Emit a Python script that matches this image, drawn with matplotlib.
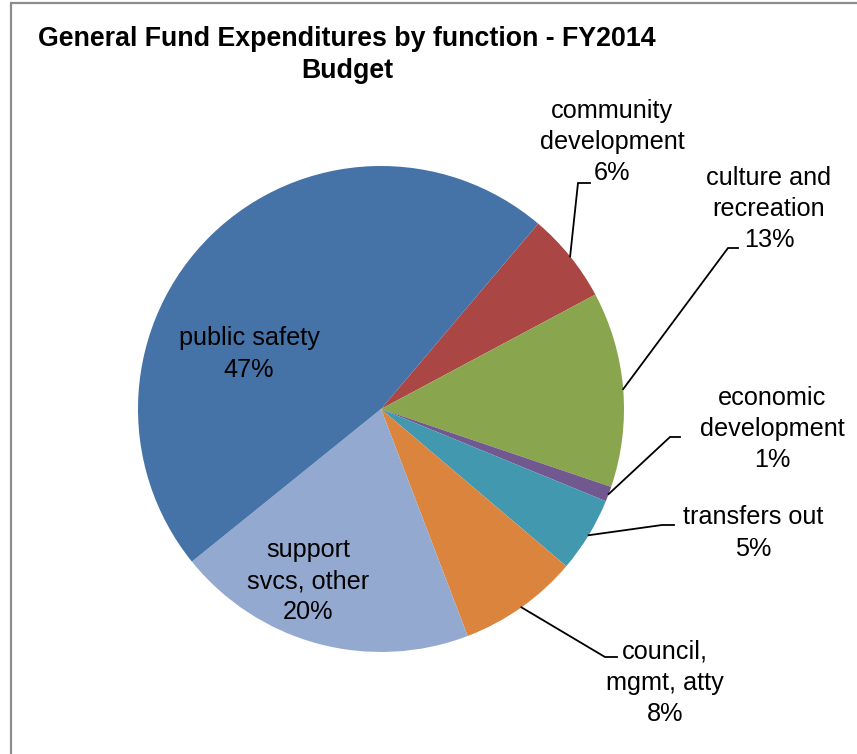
import matplotlib.pyplot as plt
from matplotlib.patches import Rectangle
import numpy as np

plt.rcParams['font.family'] = ['Liberation Sans', 'DejaVu Sans']

categories = ['community\ndevelopment', 'culture and\nrecreation', 'economic\ndevelopment',
              'transfers out', 'council,\nmgmt, atty', 'support\nsvcs, other', 'public safety']
shares = [6, 13, 1, 5, 8, 20, 47]
colors = ['#AA4643', '#89A54E', '#71588F', '#4198AF', '#DB843D', '#93A9CF', '#4572A7']

W, H = 857, 754
fig = plt.figure(figsize=(W / 100, H / 100), dpi=100)
ax = fig.add_axes([0, 0, 1, 1])

cx, cy, r = 381, H - 409, 243
wedges, _ = ax.pie(shares, colors=colors, startangle=49.7, counterclock=False,
                   center=(cx, cy), radius=r, frame=True)
ax.set_xlim(0, W)
ax.set_ylim(0, H)
ax.set_aspect('auto')
ax.axis('off')

# label block centres (x, y from top), and leader elbows for outside labels
label_pos = [(612, 142), (769, 209), (772, 429), (753, 533), (665, 683), (308, 581), (249, 354)]
elbows = [((578, 183), (590, 183)), ((728, 248), (738, 248)), ((670, 437), (680, 437)),
          ((662, 525), (674, 525)), ((605, 657), (617, 657)), None, None]

for w, name, val, (lx, ly), elb in zip(wedges, categories, shares, label_pos, elbows):
    ax.text(lx, H - ly, f'{name}\n{val}%', ha='center', va='center', fontsize=18.2,
            linespacing=1.38, color='black')
    if elb is None:
        continue
    mid = np.deg2rad((w.theta1 + w.theta2) / 2)
    sx, sy = cx + r * np.cos(mid), cy + r * np.sin(mid)
    (ex, ey), (hx, hy) = elb
    ax.plot([sx, ex, hx], [sy, H - ey, H - hy], color='black', lw=1.3, solid_joinstyle='miter')

ax.text(347, H - 55, 'General Fund Expenditures by function - FY2014\nBudget', ha='center',
        va='center', fontsize=19.3, fontweight='bold', linespacing=1.25)

ax.add_patch(Rectangle((11, -20), W + 20, H - 3 + 20, fill=False, edgecolor='#8c8c8c',
                       lw=1.6, clip_on=False))

fig.savefig('out.png', dpi=100)
